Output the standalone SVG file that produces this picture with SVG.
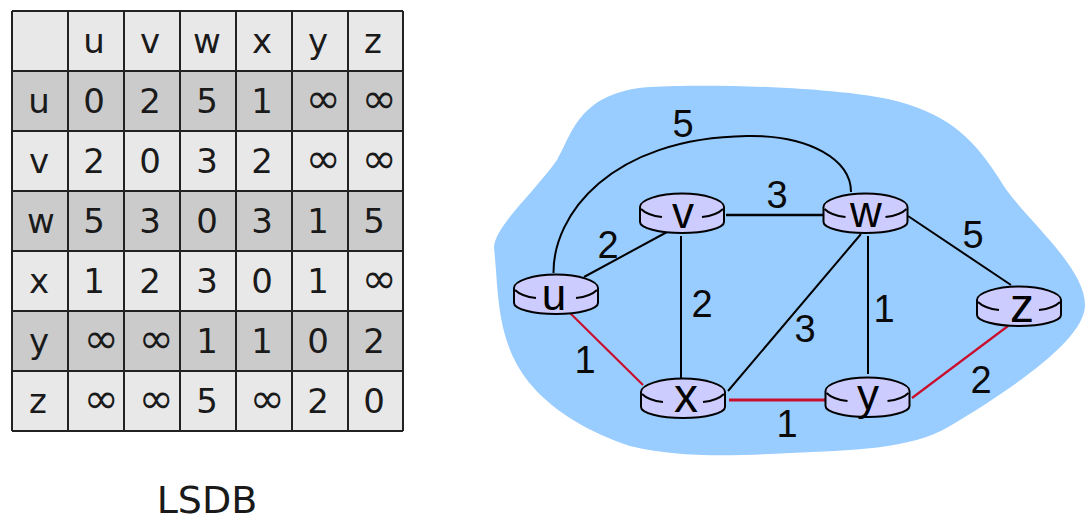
<svg xmlns="http://www.w3.org/2000/svg" width="1091" height="523" viewBox="0 0 1091 523">
<style>
.l{fill:#e8e8e8}.d{fill:#cbcbcb}
.g{stroke:#222;stroke-width:2;fill:none}
.t{font-family:"DejaVu Sans",Verdana,sans-serif;font-size:34px;fill:#1a1a1a;text-anchor:middle}
.i{font-size:42px}
.a{font-family:"Liberation Sans",Arial,sans-serif;font-size:38px;fill:#0a0a0a;text-anchor:middle}
.n{font-family:"Liberation Sans",Arial,sans-serif;font-size:44px;fill:#000;text-anchor:middle}
.b{font-size:48px}
.e{stroke:#000;stroke-width:2;fill:none}
.r{stroke:#c8102e;stroke-width:2.2;fill:none}
.rb{fill:#ccccff;stroke:#000;stroke-width:2}
.rc{fill:none;stroke:#000;stroke-width:2}
</style>
<defs>
<g id="router">
<path class="rb" d="M-42,-6V9C-42,15 -23,20 0,20C23,20 42,15 42,9V-6C42,-13 23,-19.500 0,-19.500C-23,-19.500 -42,-13 -42,-6Z"/>
<path class="rc" d="M-41,-4C-37,0 -29,3 -20,4M41,-4C37,0 29,3 20,4"/>
</g>
</defs>
<g id="table">
<rect class="l" x="12" y="11" width="391" height="60"/>
<rect class="d" x="12" y="71" width="391" height="60"/>
<rect class="l" x="12" y="131" width="391" height="60"/>
<rect class="d" x="12" y="191" width="391" height="60"/>
<rect class="l" x="12" y="251" width="391" height="60"/>
<rect class="d" x="12" y="311" width="391" height="60"/>
<rect class="l" x="12" y="371" width="391" height="60"/>
<path class="g" d="M12,11H403M12,71H403M12,131H403M12,191H403M12,251H403M12,311H403M12,371H403M12,431H403M12,11V431M68,11V431M124,11V431M180,11V431M236,11V431M292,11V431M348,11V431M403,11V431"/>
<g class="t">
<text x="94" y="53">u</text><text x="150" y="53">v</text><text x="207" y="53">w</text><text x="262" y="53">x</text><text x="318" y="53">y</text><text x="373" y="53">z</text>
<text x="39" y="113">u</text><text x="94" y="113">0</text><text x="150" y="113">2</text><text x="207" y="113">5</text><text x="262" y="113">1</text><text class="i" x="323" y="113">∞</text><text class="i" x="379" y="113">∞</text>
<text x="39" y="173">v</text><text x="94" y="173">2</text><text x="150" y="173">0</text><text x="207" y="173">3</text><text x="262" y="173">2</text><text class="i" x="323" y="173">∞</text><text class="i" x="379" y="173">∞</text>
<text x="41" y="233">w</text><text x="94" y="233">5</text><text x="150" y="233">3</text><text x="207" y="233">0</text><text x="262" y="233">3</text><text x="318" y="233">1</text><text x="374" y="233">5</text>
<text x="39" y="293">x</text><text x="94" y="293">1</text><text x="150" y="293">2</text><text x="207" y="293">3</text><text x="262" y="293">0</text><text x="318" y="293">1</text><text class="i" x="379" y="293">∞</text>
<text x="39" y="353">y</text><text class="i" x="101" y="353">∞</text><text class="i" x="156" y="353">∞</text><text x="207" y="353">1</text><text x="262" y="353">1</text><text x="318" y="353">0</text><text x="374" y="353">2</text>
<text x="38" y="413">z</text><text class="i" x="101" y="413">∞</text><text class="i" x="156" y="413">∞</text><text x="207" y="413">5</text><text class="i" x="267" y="413">∞</text><text x="318" y="413">2</text><text x="374" y="413">0</text>
</g>
<text x="207" y="513" font-family="'DejaVu Sans',Verdana,sans-serif" font-size="38" fill="#1a1a1a" text-anchor="middle">LSDB</text>
</g>
<path id="cloud" fill="#99ccff" d="M494,247C496,225 532,195 557,160C572,135 578,92 650,87C720,83 850,88 900,102C950,116 975,140 1000,180C1020,215 1085,265 1085,305C1085,340 1010,390 950,426C910,450 850,450 790,453C730,456 680,458 630,446C590,433 555,412 533,387C505,355 500,320 497,285C496,270 495,258 494,247Z"/>
<g id="connectors">
<path class="e" d="M553.500,273C553,215 610,138 747,136C810,135 851,160 851,192"/>
<path class="e" d="M584,277L667,232M681,236V378M728,391L861,234M868,236V374M908,216L1011,285"/>
<path class="e" style="stroke-width:2.500" d="M726,215H825"/>
<path class="r" d="M570,313L643,385M912,398L1008,326"/>
<path class="r" style="stroke-width:3" d="M729,400H826"/>
</g>
<g id="node-u"><use href="#router" x="556" y="294"/><text class="n" x="554" y="310">u</text></g>
<g id="node-v"><use href="#router" x="682" y="213"/><text class="n" x="683" y="228">v</text></g>
<g id="node-w"><use href="#router" x="865.500" y="213"/><text class="n" x="866" y="227">w</text></g>
<g id="node-x"><use href="#router" x="683" y="398"/><text class="n b" x="686" y="412">x</text></g>
<g id="node-y"><use href="#router" x="867.500" y="397"/><text class="n" x="868" y="410">y</text></g>
<g id="node-z"><use href="#router" x="1019" y="306"/><text class="n b" x="1022" y="322">z</text></g>
<g id="edge-labels">
<text class="a" x="683" y="137">5</text>
<text class="a" x="777" y="208">3</text>
<text class="a" x="608" y="258">2</text>
<text class="a" x="702" y="317">2</text>
<text class="a" x="585" y="373">1</text>
<text class="a" x="805" y="342">3</text>
<text class="a" x="884" y="322">1</text>
<text class="a" x="973" y="248">5</text>
<text class="a" x="981" y="393">2</text>
<text class="a" x="787" y="437">1</text>
</g>
</svg>
